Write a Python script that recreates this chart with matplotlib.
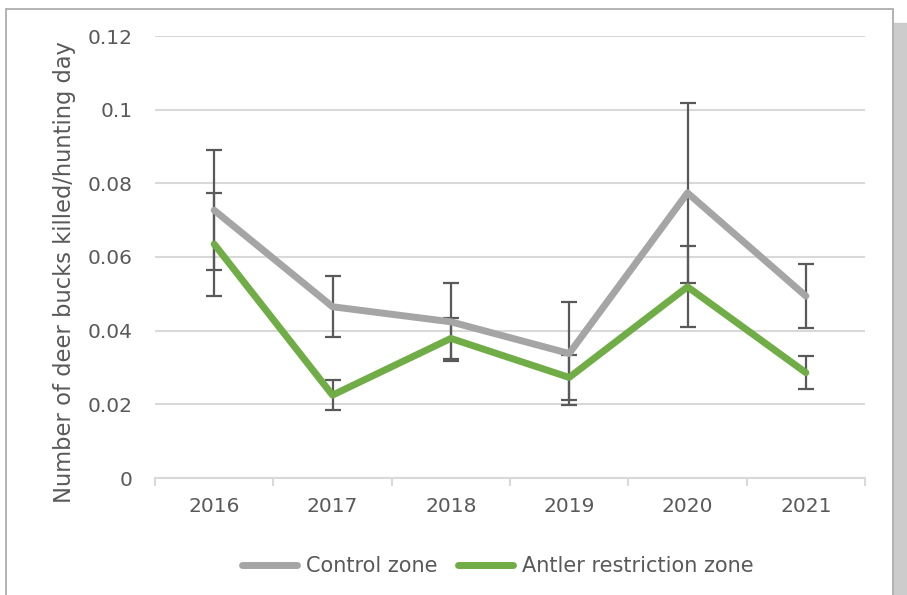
import numpy as np
import matplotlib
matplotlib.use("Agg")
from matplotlib import pyplot as plt
from matplotlib.patches import Rectangle
from matplotlib.lines import Line2D

years = ["2016", "2017", "2018", "2019", "2020", "2021"]
control = [0.0727, 0.0465, 0.0424, 0.0338, 0.0774, 0.0494]
control_err = [0.0163, 0.0083, 0.0106, 0.0139, 0.0245, 0.0087]
antler = [0.0635, 0.0225, 0.0379, 0.0273, 0.0519, 0.0286]
antler_err = [0.0140, 0.0040, 0.0055, 0.0062, 0.0110, 0.0045]

plt.rcParams['font.family'] = ['DejaVu Sans']

fig = plt.figure(figsize=(9.07, 5.95), dpi=100)

# outer frame and the grey strip at the right
fig.patches.append(Rectangle((894/907, 0), 13/907, 1 - 23/595, transform=fig.transFigure,
                             color="#cccccc", zorder=0))
fig.patches.append(Rectangle((6/907, -0.01), 887/907, 1.01 - 9/595, transform=fig.transFigure,
                             facecolor="white", edgecolor="#a6a6a6", lw=1.2, zorder=0))

ax = fig.add_axes([155/907, 1 - 478/595, 710/907, 442/595])
ax.set_zorder(2)
ax.set_facecolor("none")
x = np.arange(len(years))

ax.errorbar(x, control, yerr=control_err, fmt="none", ecolor="#595959",
            elinewidth=1.6, capsize=6, capthick=1.6, zorder=2)
ax.errorbar(x, antler, yerr=antler_err, fmt="none", ecolor="#595959",
            elinewidth=1.6, capsize=6, capthick=1.6, zorder=2)
ax.plot(x, control, color="#a5a5a5", lw=5, solid_capstyle="round",
        solid_joinstyle="round", zorder=3, label="Control zone")
ax.plot(x, antler, color="#70ad47", lw=5, solid_capstyle="round",
        solid_joinstyle="round", zorder=3, label="Antler restriction zone")

ax.set_xlim(-0.5, len(years) - 0.5)
ax.set_ylim(0, 0.12)
ax.set_yticks([0, 0.02, 0.04, 0.06, 0.08, 0.1, 0.12])
ax.set_yticklabels(["0", "0.02", "0.04", "0.06", "0.08", "0.1", "0.12"])
ax.set_xticks(x)
ax.set_xticklabels(years)
ax.set_xticks(np.arange(-0.5, len(years)), minor=True)

ax.grid(axis="y", color="#d9d9d9", lw=1.5)
ax.set_axisbelow(True)
for s in ["top", "right", "left"]:
    ax.spines[s].set_visible(False)
ax.spines["bottom"].set_color("#d9d9d9")
ax.spines["bottom"].set_linewidth(1.5)

ax.tick_params(axis="y", length=0, pad=16, labelsize=14.5, labelcolor="#595959")
ax.tick_params(axis="x", which="major", length=0, pad=14, labelsize=14.5, labelcolor="#595959")
ax.tick_params(axis="x", which="minor", length=6, width=1.5, color="#d9d9d9")

fig.text(65/907, 1 - 272/595, "Number of deer bucks killed/hunting day", rotation=90,
         ha="center", va="center", fontsize=16.3, color="#595959")

handles = [Line2D([], [], color="#a5a5a5", lw=5, solid_capstyle="round"),
           Line2D([], [], color="#70ad47", lw=5, solid_capstyle="round")]
fig.legend(handles, ["Control zone", "Antler restriction zone"], loc="center",
           bbox_to_anchor=(498/907, 1 - 566/595), ncol=2, frameon=False,
           fontsize=15, labelcolor="#595959", handlelength=2.6, handletextpad=0.45,
           columnspacing=1.0)

fig.savefig("out.png", dpi=100)
